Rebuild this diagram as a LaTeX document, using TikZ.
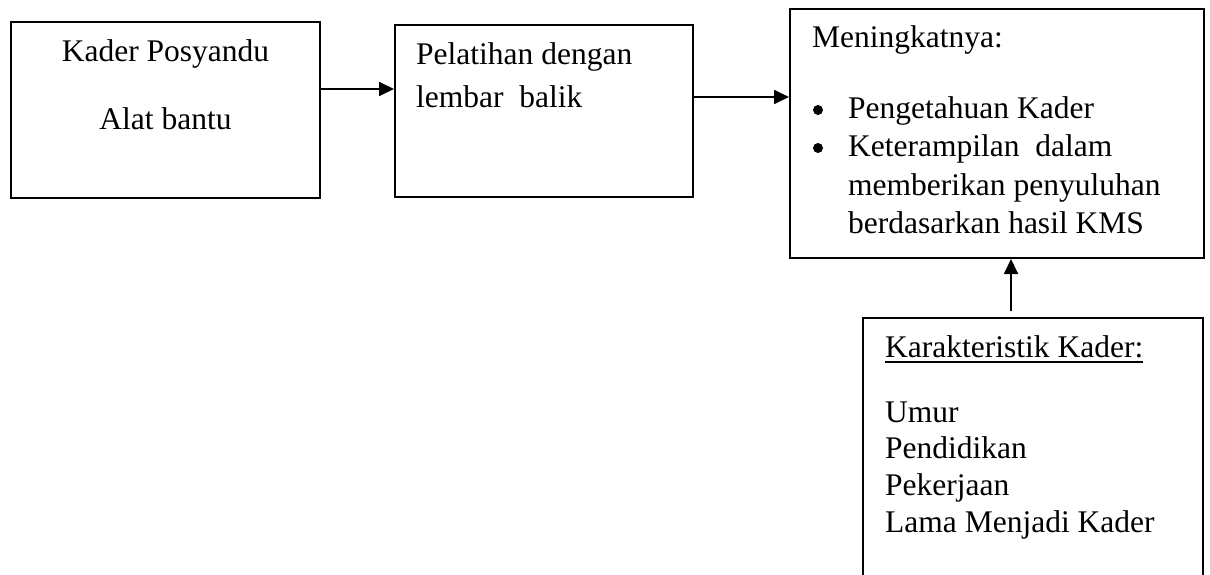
\documentclass[tikz,border=0pt]{standalone}
\usepackage{fontspec}
\setmainfont{Liberation Serif}
\usetikzlibrary{arrows.meta}
\begin{document}
\begin{tikzpicture}[x={(1pt,0)},y={(0,-1pt)},
  box/.style={draw,line width=2pt,rectangle,inner sep=0pt},
  txt/.style={inner sep=0pt,anchor=base west,font=\fontsize{31.5}{38}\selectfont},
  ctxt/.style={txt,anchor=base},
  bul/.style={circle,fill,inner sep=0pt,minimum size=10pt},
  arr/.style={line width=1.8pt,-{Triangle[length=15pt,width=14pt]}}]
\useasboundingbox (0,0) rectangle (1210,575);
\clip (0,0) rectangle (1210,575);
% boxes
\node[box,minimum width=309pt,minimum height=176pt] (b1) at (165.5,110) {};
\node[box,minimum width=298pt,minimum height=172pt] (b2) at (544,111) {};
\node[box,minimum width=414pt,minimum height=249pt] (b3) at (997,133.5) {};
\node[box,minimum width=340pt,minimum height=264pt] (b4) at (1033,450) {};
% texts box 1
\node[ctxt] (t11) at (165.5,62) {Kader Posyandu};
\node[ctxt] (t12) at (165.5,130) {Alat bantu};
% texts box 2
\node[txt] (t21) at (416,65) {Pelatihan dengan};
\node[txt] (t22) at (416,108) {lembar\ \ balik};
% texts box 3
\node[txt] (t31) at (812,48) {Meningkatnya:};
\node[bul] (bu1) at (818,110) {};
\node[txt] (t32) at (848,119) {Pengetahuan Kader};
\node[bul] (bu2) at (818,148) {};
\node[txt] (t33) at (848,157) {Keterampilan\ \ dalam};
\node[txt] (t34) at (848,195) {memberikan penyuluhan};
\node[txt] (t35) at (848,233) {berdasarkan hasil KMS};
% texts box 4
\node[txt] (t41) at (885,357) {Karakteristik Kader:};
\draw[line width=1.8pt] ([yshift=-5pt]t41.base west) -- ([yshift=-5pt]t41.base east);
\node[txt] (t42) at (885,422) {Umur};
\node[txt] (t43) at (885,458) {Pendidikan};
\node[txt] (t44) at (885,495) {Pekerjaan};
\node[txt] (t45) at (885,532) {Lama Menjadi Kader};
% connectors
\coordinate (r1) at (0,89);
\coordinate (r2) at (0,97);
\coordinate (c3) at (1011,0);
\draw[arr] (b1.east |- r1) -- (b2.west |- r1);
\draw[arr] (b2.east |- r2) -- (b3.west |- r2);
\draw[arr] (b4.north -| c3) ++(0,-6) -- (b3.south -| c3);
\end{tikzpicture}
\end{document}
